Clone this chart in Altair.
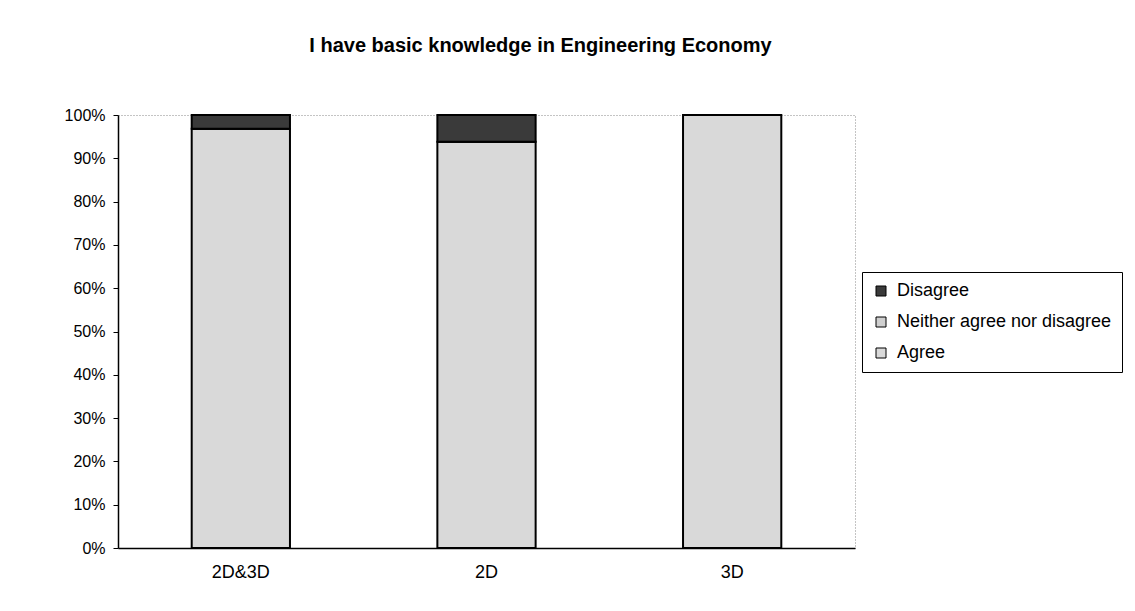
import altair as alt
import pandas as pd

categories = ["2D&3D", "2D", "3D"]
responses = ["Disagree", "Neither agree nor disagree", "Agree"]
agree = [96.8, 93.8, 100.0]
neither = [0.0, 0.0, 0.0]
disagree = [3.2, 6.2, 0.0]

rows = []
for i, c in enumerate(categories):
    for r, vals, o in [("Agree", agree, 0), ("Neither agree nor disagree", neither, 1), ("Disagree", disagree, 2)]:
        rows.append({"category": c, "response": r, "value": vals[i] / 100.0, "ord": o})
df = pd.DataFrame(rows)

font = "Liberation Sans"

chart = alt.Chart(df).mark_bar(stroke="black", strokeWidth=2).encode(
    x=alt.X("category:N", sort=categories, title=None,
            scale=alt.Scale(paddingInner=0.6, paddingOuter=0.3),
            axis=alt.Axis(labelAngle=0, ticks=False, labelFontSize=18, labelPadding=15,
                          labelColor="black", domainColor="black", domainWidth=1.5, labelFont=font)),
    y=alt.Y("value:Q", stack="zero", title=None,
            scale=alt.Scale(domain=[0, 1], nice=False),
            axis=alt.Axis(format=".0%", values=[i / 10 for i in range(11)], grid=False,
                          tickSize=5, tickColor="black", domainColor="black", domainWidth=1.5,
                          labelFontSize=16, labelColor="black", labelFont=font, labelPadding=8)),
    color=alt.Color("response:N",
                    scale=alt.Scale(domain=responses, range=["#3a3a3a", "#cfcfcf", "#d9d9d9"]),
                    legend=alt.Legend(title=None, orient="none", legendX=744, legendY=157,
                                      symbolType="square", symbolSize=100, symbolStrokeColor="black",
                                      symbolStrokeWidth=1, labelFontSize=18, labelFont=font,
                                      labelColor="black", rowPadding=13, strokeColor="black",
                                      padding=10, labelOffset=7, labelLimit=400)),
    order=alt.Order("ord:Q"),
).properties(
    width=737, height=433,
    title=alt.TitleParams("I have basic knowledge in Engineering Economy", fontSize=20, font=font,
                          fontWeight="bold", color="black", offset=51, dx=54),
    padding={"left": 110, "top": 107, "right": 272, "bottom": 48},
    autosize=alt.AutoSizeParams(type="none"),
).configure_view(stroke="#888888", strokeDash=[1, 2], strokeWidth=1)

chart.save("out.html", embed_options={"renderer": "svg", "actions": False})
